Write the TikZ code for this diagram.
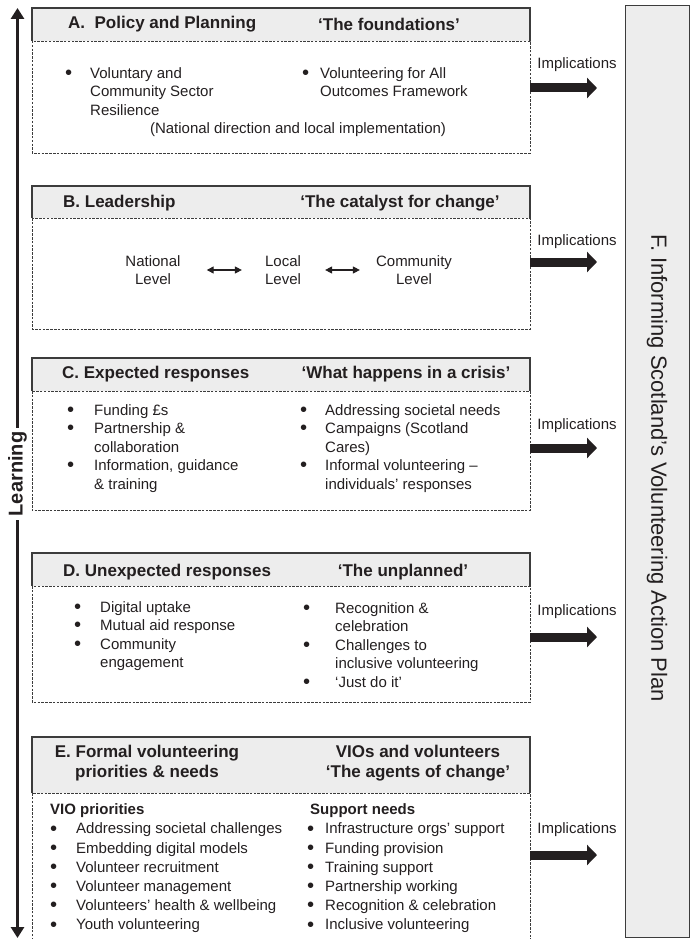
\documentclass[tikz,border=0pt]{standalone}
\usepackage{graphicx}
\usepackage{fontspec}
\setmainfont{Liberation Sans}
\usetikzlibrary{arrows.meta}
\definecolor{ink}{HTML}{231F20}
\definecolor{hdr}{HTML}{EDEDED}
\definecolor{edge}{HTML}{3C3C3C}
\newcommand\bodyfont{\fontsize{15}{18.5}\selectfont}
\newcommand\efont{\fontsize{15}{19.2}\selectfont}
\newcommand\headfont{\fontsize{17}{20}\selectfont\bfseries}
\newcommand\bi[1]{\strut\makebox[#1][l]{\raisebox{-1.2pt}{\scalebox{1.35}{\textbullet}}}}
\newcommand\bc[1]{\strut\hspace*{#1}}
\begin{document}
\begin{tikzpicture}[x=1pt,y=-1pt,
  hdrfill/.style={fill=hdr},
  hdrline/.style={draw=edge,line width=1.2pt},
  bodybox/.style={draw=edge,line width=0.8pt,dash pattern=on 2.5pt off 1.3pt},
  htext/.style={font=\headfont,text=ink,inner sep=0pt},
  btext/.style={font=\bodyfont,text=ink,inner sep=0pt,align=left,anchor=north west},
  etext/.style={font=\efont,text=ink,inner sep=0pt,align=left,anchor=north west},
  ctext/.style={font=\bodyfont,text=ink,inner sep=0pt,align=center},
  impl/.style={font=\bodyfont,text=ink,inner sep=0pt},
  bigarrow/.style={draw=ink,line width=9pt,-{Triangle[length=10pt,width=20pt]}},
  levarrow/.style={draw=ink,line width=1.3pt,{Triangle[length=7pt,width=7pt]}-{Triangle[length=7pt,width=7pt]}},
  learnline/.style={draw=ink,line width=3.8pt,-{Triangle[length=11pt,width=13pt]}},
  fboxstyle/.style={fill=hdr,draw=edge,line width=1pt,inner sep=0pt}]
\useasboundingbox (0,0) rectangle (690,939);

% ---------- F box
\node[fboxstyle,minimum width=64pt,minimum height=931pt] (fbox) at (657,471.5) {};
\node[rotate=-90,font=\fontsize{22}{26}\selectfont,text=ink,inner sep=0pt] (ftext) at (657,468) {F. Informing Scotland’s Volunteering Action Plan};

% ---------- Learning arrow
\node[rotate=90,font=\fontsize{20}{24}\selectfont\bfseries,text=ink,inner sep=4pt] (learn) at (17.5,474) {Learning};
\coordinate (ltop) at (17.5,8);
\coordinate (lbot) at (17.5,938);
\draw[learnline] (learn) -- (ltop);
\draw[learnline] (learn) -- (lbot);

% ---------- Box A
\fill[hdrfill] (32,8) rectangle (530,41);
\draw[hdrline] (32,41) -- (32,8) -- (530,8) -- (530,41);
\draw[bodybox] (32,41) rectangle (530,153);
\node[htext,anchor=west] (ah1) at (68,24) {A.~~Policy and Planning};
\node[htext] (ah2) at (389,24) {‘The foundations’};
\node[btext] (a1) at (65,65) {\bi{25pt}Voluntary and\\\bc{25pt}Community Sector\\\bc{25pt}Resilience};
\node[btext] (a2) at (302,65) {\bi{18pt}Volunteering for All\\\bc{18pt}Outcomes Framework};
\node[impl] (a3) at (298,130) {(National direction and local implementation)};

% ---------- Box B
\fill[hdrfill] (32,186) rectangle (530,218);
\draw[hdrline] (32,218) -- (32,186) -- (530,186) -- (530,218);
\draw[bodybox] (32,218) rectangle (530,329);
\node[htext,anchor=west] (bh1) at (63,203) {B. Leadership};
\node[htext] (bh2) at (400,203) {‘The catalyst for change’};
\node[ctext] (nat) at (153,270) {National\\Level};
\node[ctext] (loc) at (283,270) {Local\\Level};
\node[ctext] (com) at (414,270) {Community\\Level};
\draw[levarrow,shorten <=26pt,shorten >=23pt] (nat) -- (loc);
\draw[levarrow,shorten <=24pt,shorten >=16pt] (loc) -- (com);

% ---------- Box C
\fill[hdrfill] (32,358) rectangle (530,391);
\draw[hdrline] (32,391) -- (32,358) -- (530,358) -- (530,391);
\draw[bodybox] (32,391) rectangle (530,510);
\node[htext,anchor=west] (ch1) at (62,374) {C. Expected responses};
\node[htext] (ch2) at (406,374) {‘What happens in a crisis’};
\node[btext] (c1) at (67,402) {\bi{27pt}Funding £s\\\bi{27pt}Partnership \&\\\bc{27pt}collaboration\\\bi{27pt}Information, guidance\\\bc{27pt}\& training};
\node[btext] (c2) at (300,402) {\bi{25pt}Addressing societal needs\\\bi{25pt}Campaigns (Scotland\\\bc{25pt}Cares)\\\bi{25pt}Informal volunteering –\\\bc{25pt}individuals’ responses};

% ---------- Box D
\fill[hdrfill] (32,553) rectangle (530,586);
\draw[hdrline] (32,586) -- (32,553) -- (530,553) -- (530,586);
\draw[bodybox] (32,586) rectangle (530,702);
\node[htext,anchor=west] (dh1) at (63,572) {D. Unexpected responses};
\node[htext] (dh2) at (403,572) {‘The unplanned’};
\node[btext] (d1) at (74,599) {\bi{26pt}Digital uptake\\\bi{26pt}Mutual aid response\\\bi{26pt}Community\\\bc{26pt}engagement};
\node[btext] (d2) at (303,600) {\bi{32pt}Recognition \&\\\bc{32pt}celebration\\\bi{32pt}Challenges to\\\bc{32pt}inclusive volunteering\\\bi{32pt}‘Just do it’};

% ---------- Box E
\fill[hdrfill] (32,737) rectangle (530,793);
\draw[hdrline] (32,793) -- (32,737) -- (530,737) -- (530,793);
\draw[bodybox] (32,940) -- (32,793) -- (530,793) -- (530,940);
\node[htext,align=center] (eh1) at (147,763) {E. Formal volunteering\\priorities \& needs};
\node[htext,align=center] (eh2) at (418,763) {VIOs and volunteers\\‘The agents of change’};
\node[etext] (e1) at (50,801) {\strut\textbf{VIO priorities}\\\bi{26pt}Addressing societal challenges\\\bi{26pt}Embedding digital models\\\bi{26pt}Volunteer recruitment\\\bi{26pt}Volunteer management\\\bi{26pt}Volunteers’ health \& wellbeing\\\bi{26pt}Youth volunteering};
\node[etext] (e2) at (307,801) {\strut\hspace*{3pt}\textbf{Support needs}\\\bi{18pt}Infrastructure orgs’ support\\\bi{18pt}Funding provision\\\bi{18pt}Training support\\\bi{18pt}Partnership working\\\bi{18pt}Recognition \& celebration\\\bi{18pt}Inclusive volunteering};

% ---------- Implications arrows
\node[impl] (impA) at (577,65) {Implications};
\node[impl] (impB) at (577,242) {Implications};
\node[impl] (impC) at (577,426) {Implications};
\node[impl] (impD) at (577,612) {Implications};
\node[impl] (impE) at (577,830) {Implications};
\coordinate (sA) at (530,88);  \coordinate (tA) at (597,88);
\coordinate (sB) at (530,262); \coordinate (tB) at (597,262);
\coordinate (sC) at (530,448); \coordinate (tC) at (597,448);
\coordinate (sD) at (530,637); \coordinate (tD) at (597,637);
\coordinate (sE) at (530,855); \coordinate (tE) at (597,855);
\draw[bigarrow] (sA) -- (tA);
\draw[bigarrow] (sB) -- (tB);
\draw[bigarrow] (sC) -- (tC);
\draw[bigarrow] (sD) -- (tD);
\draw[bigarrow] (sE) -- (tE);
\end{tikzpicture}
\end{document}
